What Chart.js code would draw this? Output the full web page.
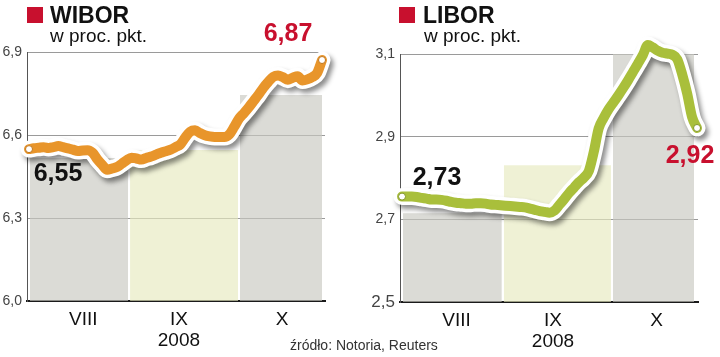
<!DOCTYPE html>
<html>
<head>
<meta charset="utf-8">
<script src="https://cdn.jsdelivr.net/npm/chart.js@4.4.1/dist/chart.umd.min.js"></script>
<style>
  body { margin: 0; background: #fff; font-family: "Liberation Sans", Arial, sans-serif; }
  #wrap { position: relative; width: 720px; height: 357px; overflow: hidden; }
  canvas { position: absolute; top: 0; }
  .sq { position: absolute; top: 7px; width: 16px; height: 16px; background: #c8102e; }
  .title { position: absolute; top: 4px; font-weight: bold; font-size: 23px; line-height: 1; color: #111; }
  .unit { position: absolute; top: 26px; font-size: 19px; line-height: 1; color: #111; }
  .src { position: absolute; left: 290px; top: 338px; font-size: 14px; line-height: 1; color: #333; }
</style>
</head>
<body>
<div id="wrap">
  <canvas id="wibor" width="360" height="357" style="left:0"></canvas>
  <canvas id="libor" width="360" height="357" style="left:360px"></canvas>
  <div class="sq" style="left:27px"></div>
  <div class="title" style="left:50px">WIBOR</div>
  <div class="unit" style="left:50px">w proc. pkt.</div>
  <div class="sq" style="left:399px"></div>
  <div class="title" style="left:423px">LIBOR</div>
  <div class="unit" style="left:424px">w proc. pkt.</div>
  <div class="src">źródło: Notoria, Reuters</div>
</div>
<script>
// months on the x axis (trading-day index)
const monthLabels = ['VIII', 'IX', 'X'];
const yearLabel = '2008';
const monthTicks = [11.1, 30.7, 51.8];

// WIBOR, daily
const wiborValues = [
  6.549, 6.552, 6.554, 6.556, 6.553, 6.556, 6.560, 6.556, 6.552, 6.547,
  6.542, 6.544, 6.545, 6.536, 6.512, 6.492, 6.474, 6.479, 6.484, 6.496,
  6.509, 6.518, 6.515, 6.511, 6.517, 6.522, 6.529, 6.536, 6.541, 6.547,
  6.556, 6.566, 6.591, 6.612, 6.617, 6.607, 6.599, 6.595, 6.593, 6.593,
  6.593, 6.602, 6.629, 6.659, 6.679, 6.700, 6.723, 6.746, 6.771, 6.792,
  6.810, 6.815, 6.809, 6.800, 6.807, 6.812, 6.797, 6.801, 6.809, 6.824,
  6.871
];
const wiborMonthSpan = [[0.2, 20.3], [20.7, 42.8], [43.2, 60.0]];
const wiborMonthAvg = [6.517, 6.546, 6.745];
const wiborTicks = [6.0, 6.3, 6.6, 6.9];

// LIBOR, daily
const liborValues = [
  2.755, 2.755, 2.755, 2.754, 2.752, 2.750, 2.748, 2.748, 2.747, 2.745,
  2.742, 2.740, 2.739, 2.738, 2.738, 2.739, 2.739, 2.738, 2.736, 2.735,
  2.734, 2.733, 2.732, 2.731, 2.730, 2.729, 2.726, 2.723, 2.720, 2.718,
  2.716, 2.721, 2.735, 2.749, 2.764, 2.777, 2.790, 2.801, 2.817, 2.863,
  2.920, 2.945, 2.966, 2.983, 3.000, 3.018, 3.037, 3.057, 3.077, 3.098,
  3.122, 3.116, 3.108, 3.103, 3.101, 3.098, 3.087, 3.050, 3.004, 2.947,
  2.921
];
const liborMonthSpan = [[0.2, 20.3], [20.7, 42.5], [42.9, 59.4]];
const liborMonthAvg = [2.715, 2.831, 3.10];
const liborTicks = [2.5, 2.7, 2.9, 3.1];

const FONT = '"Liberation Sans", Arial, sans-serif';
Chart.defaults.font.family = FONT;

const bandColors = ['rgba(200,200,192,0.65)', 'rgba(230,233,190,0.65)', 'rgba(200,200,192,0.65)'];

const lineShadow = {
  id: 'lineShadow',
  beforeDatasetDraw(chart, args) {
    if (!chart.data.datasets[args.index].shadow) return;
    const ctx = chart.ctx;
    ctx.save();
    ctx.shadowColor = 'rgba(0,0,0,0.45)';
    ctx.shadowBlur = 5;
    ctx.shadowOffsetX = 3;
    ctx.shadowOffsetY = 4;
  },
  afterDatasetDraw(chart, args) {
    if (chart.data.datasets[args.index].shadow) chart.ctx.restore();
  }
};

const endLabels = {
  id: 'endLabels',
  afterDatasetsDraw(chart, args, opts) {
    const pts = chart.getDatasetMeta(0).data;
    const ctx = chart.ctx;
    ctx.save();
    ctx.font = 'bold 25px ' + FONT;
    ctx.textAlign = 'center';
    ctx.textBaseline = 'middle';
    [[pts[0], opts.first], [pts[pts.length - 1], opts.last]].forEach(([p, l]) => {
      ctx.fillStyle = l.color;
      ctx.fillText(l.text, p.x + l.dx, p.y + l.dy);
    });
    ctx.restore();
  }
};

function makeChart(id, c) {
  const pts = c.values.map((v, i) => ({x: i, y: v}));
  const last = pts.length - 1;
  const bands = c.spans.map((s, k) => ({
    data: [{x: s[0], y: c.avg[k]}, {x: s[1], y: c.avg[k]}],
    backgroundColor: bandColors[k],
    borderWidth: 0,
    pointRadius: 0,
    fill: 'start',
    order: 2
  }));
  return new Chart(document.getElementById(id), {
    type: 'line',
    data: {
      datasets: [{
        data: pts,
        borderColor: c.color,
        borderWidth: 10,
        borderJoinStyle: 'round',
        borderCapStyle: 'round',
        cubicInterpolationMode: 'monotone',
        pointRadius: ctx => (ctx.dataIndex === 0 || ctx.dataIndex === last) ? 3.5 : 0,
        pointBackgroundColor: '#fff',
        pointBorderColor: c.dark,
        pointBorderWidth: 1,
        clip: false,
        order: 0
      }, {
        data: pts,
        borderColor: '#fff',
        borderWidth: 17,
        borderJoinStyle: 'round',
        borderCapStyle: 'round',
        cubicInterpolationMode: 'monotone',
        pointRadius: 0,
        clip: false,
        shadow: true,
        order: 1
      }, ...bands]
    },
    options: {
      responsive: false,
      animation: false,
      events: [],
      layout: { padding: c.padding },
      plugins: {
        legend: { display: false },
        tooltip: { enabled: false },
        endLabels: c.labels
      },
      scales: {
        x: {
          type: 'linear',
          min: -0.41,
          max: c.xMax,
          afterBuildTicks: axis => { axis.ticks = monthTicks.map(v => ({value: v})); },
          afterFit: axis => { axis.height = c.xHeight; },
          grid: { display: false, drawTicks: false },
          border: { display: true, color: '#1a1a1a', width: 2 },
          ticks: {
            autoSkip: false,
            maxRotation: 0,
            padding: 8,
            color: '#111',
            font: { size: 19, lineHeight: 1.1 },
            callback: (v, i) => i === 1 ? [monthLabels[i], yearLabel] : monthLabels[i]
          }
        },
        y: {
          min: c.yTicks[0],
          max: c.yTicks[c.yTicks.length - 1],
          afterBuildTicks: axis => { axis.ticks = c.yTicks.map(v => ({value: v})); },
          afterFit: axis => { axis.width = c.yWidth; },
          grid: { color: '#9a9a9a', lineWidth: 1, drawTicks: false },
          border: { color: '#555', width: 1 },
          ticks: {
            padding: 5,
            color: '#444',
            font: ctx => ({ size: (ctx.tick && ctx.tick.value === c.bigTick) ? 17 : 14 }),
            callback: v => v.toFixed(1).replace('.', ',')
          }
        }
      }
    },
    plugins: [lineShadow, endLabels]
  });
}

makeChart('wibor', {
  values: wiborValues, spans: wiborMonthSpan, avg: wiborMonthAvg, yTicks: wiborTicks,
  color: '#e8952b', dark: '#c07418',
  xMax: 60.61, xHeight: 56, yWidth: 27, bigTick: null,
  padding: { left: 0, right: 35, top: 52, bottom: 0 },
  labels: {
    first: { text: '6,55', color: '#111', dx: 29, dy: 25 },
    last: { text: '6,87', color: '#c8102e', dx: -34, dy: -26 }
  }
});

makeChart('libor', {
  values: liborValues, spans: liborMonthSpan, avg: liborMonthAvg, yTicks: liborTicks,
  color: '#a9bf3b', dark: '#829626',
  xMax: 60.2, xHeight: 55, yWidth: 40, bigTick: 2.5,
  padding: { left: 0, right: 22, top: 54, bottom: 0 },
  labels: {
    first: { text: '2,73', color: '#111', dx: 35, dy: -18 },
    last: { text: '2,92', color: '#c8102e', dx: -7, dy: 28 }
  }
});
</script>
</body>
</html>
